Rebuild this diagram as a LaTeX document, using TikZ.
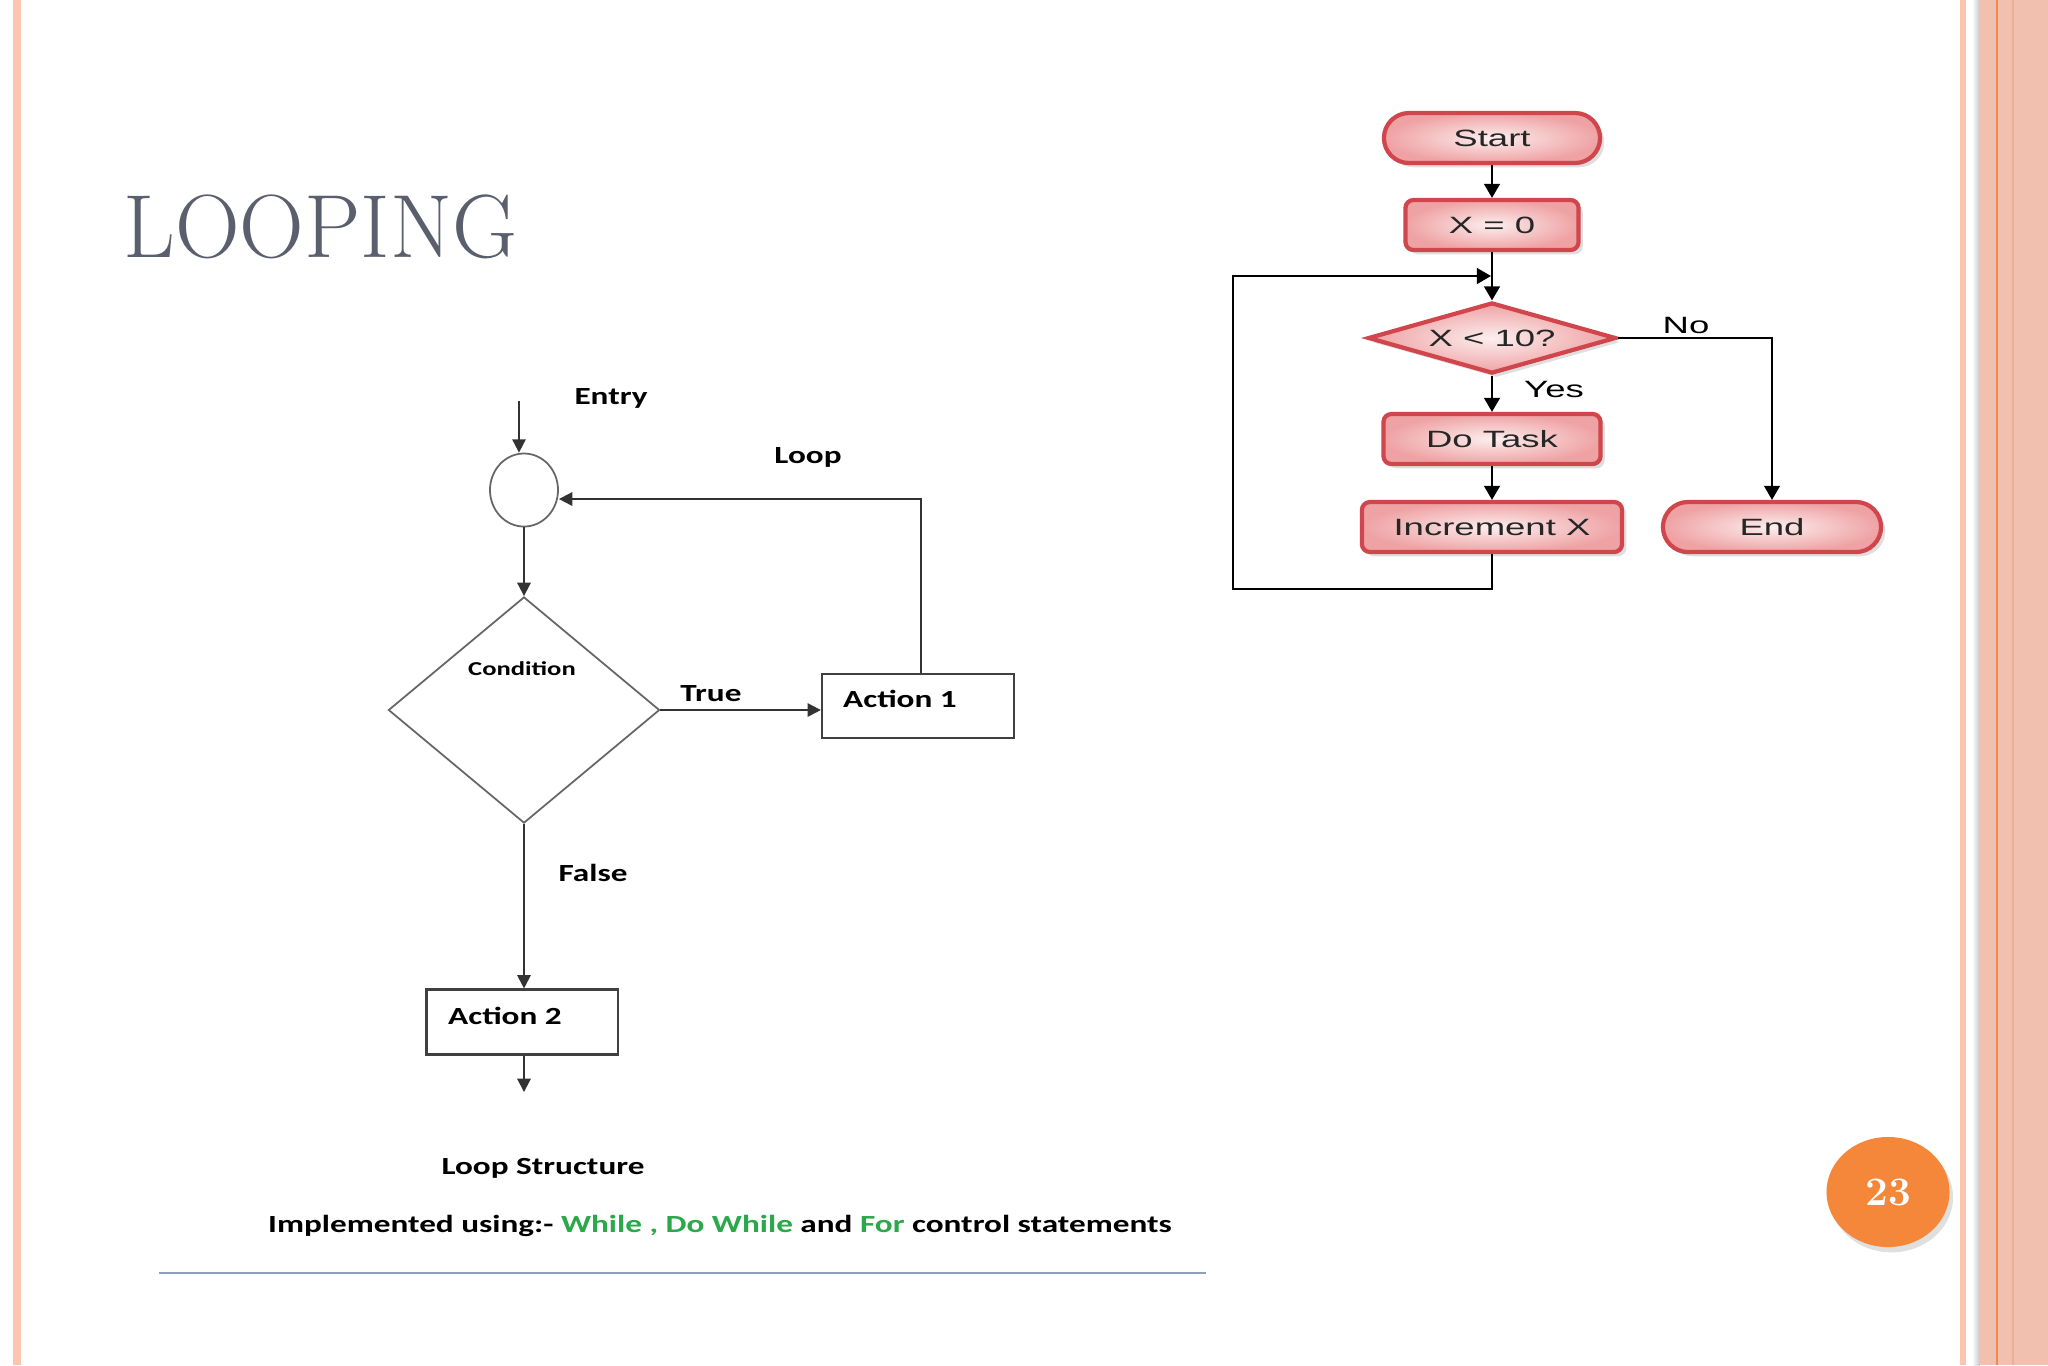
\documentclass[tikz,border=0pt]{standalone}
\usepackage{fontspec}
\usepackage{graphicx}
\usetikzlibrary{shapes.geometric,shapes.misc,shadows,arrows.meta}
\newfontfamily\calfont{Carlito}
\newfontfamily\arifont{Liberation Sans}
\definecolor{stripcol}{HTML}{FBC5AF}
\definecolor{widecol}{HTML}{F1C0AF}
\definecolor{orangeline}{HTML}{F08A4E}
\definecolor{faintline}{HTML}{EBAE9A}
\definecolor{titlegray}{HTML}{5A5F6E}
\definecolor{redborder}{HTML}{D0464C}
\definecolor{pinkin}{HTML}{FCEEEE}
\definecolor{pinkout}{HTML}{EFA2A4}
\definecolor{grn}{HTML}{2BA84A}
\definecolor{rulecol}{HTML}{8DA0BC}
\definecolor{pgorange}{HTML}{F5873A}
\newcommand\ltxt[1]{\scalebox{1.35}[1]{\calfont\bfseries\fontsize{7}{8}\selectfont #1}}
\newcommand\ctxt[1]{\scalebox{1.35}[1]{\calfont\bfseries\fontsize{5.6}{7}\selectfont #1}}
\newcommand\rtxt[1]{\scalebox{1.55}[1]{\arifont\fontsize{6.7}{8}\selectfont #1}}
\begin{document}
\begin{tikzpicture}[x=0.01cm,y=-0.01cm,
  rbox/.style={rectangle, rounded corners=0.08cm, draw=redborder, line width=1.2pt,
    inner color=pinkin, outer color=pinkout, minimum height=0.5cm, inner sep=0pt, text=black!85,
    drop shadow={shadow xshift=1.2pt, shadow yshift=-1.2pt, opacity=0.25, fill=gray}},
  rterm/.style={rbox, rounded corners=0.25cm},
  rdec/.style={diamond, aspect=3.5, draw=redborder, line width=1.2pt,
    inner color=pinkin, outer color=pinkout,
    inner sep=0pt, minimum width=2.48cm, minimum height=0.71cm, text=black!85,
    drop shadow={shadow xshift=1.2pt, shadow yshift=-1.2pt, opacity=0.25, fill=gray}},
  rarr/.style={draw=black, line width=0.6pt, -{Triangle[length=4pt,width=4.5pt]}},
  rthin/.style={draw=black, line width=0.45pt, -{Triangle[length=4pt,width=4.5pt]}},
  larr/.style={draw=black!80, line width=0.55pt, -{Triangle[length=3.8pt,width=3.8pt]}},
  lbox/.style={rectangle, draw=black!75, line width=0.6pt, inner sep=0pt},
  lshape/.style={draw=black!60, line width=0.5pt, inner sep=0pt}]
\useasboundingbox (0,0) rectangle (2048,1365);
\fill[white] (0,0) rectangle (2048,1365);
% page borders
\fill[stripcol] (13,0) rectangle (21,1365);
\fill[stripcol] (1960,0) rectangle (1966,1365);
\shade[left color=white, right color=gray!45] (1972,0) rectangle (1980,1365);
\fill[widecol] (1980,0) rectangle (2048,1365);
\draw[orangeline, line width=0.5pt] (1997,0) -- (1997,1365);
\draw[faintline, line width=0.5pt] (2013,0) -- (2013,1365);
% title
\node[anchor=base west, inner sep=0pt, text=titlegray, font=\fontsize{25.5}{26}\selectfont] (title) at (123,257) {LOOPING};
% right flowchart
\node[rterm, minimum width=2.16cm] (start) at (1492,138) {\rtxt{Start}};
\node[rbox, minimum width=1.73cm] (x0) at (1492,225) {\rtxt{X = 0}};
\node[rdec] (dec) at (1492,338) {\rtxt{X < 10?}};
\node[rbox, minimum width=2.17cm] (task) at (1492,439) {\rtxt{Do Task}};
\node[rbox, minimum width=2.60cm] (inc) at (1492,527) {\rtxt{Increment X}};
\node[rterm, minimum width=2.18cm] (end) at (1772,527) {\rtxt{End}};
\node (no) at (1686,325) {\rtxt{No}};
\node (yes) at (1554,389) {\rtxt{Yes}};
\coordinate (lb) at (1233,589);
\coordinate (jn) at (1491,276);
\draw[rarr] (start) -- (x0);
\draw[rarr] (x0) -- (dec);
\draw[rarr] (dec) -- (task);
\draw[rarr] (task) -- (inc);
\draw[rthin] (inc.south) |- (lb) |- (jn);
\draw[rthin] (dec.east) -| (end.north);
% left flowchart
\node[lshape, ellipse, minimum width=0.68cm, minimum height=0.73cm] (circ) at (524,490) {};
\node[lshape, diamond, minimum width=2.71cm, minimum height=2.26cm] (cond) at (524,710) {};
\node (condt) at (522,669) {\ctxt{Condition}};
\node[lbox, minimum width=1.92cm, minimum height=0.64cm] (act1) at (918,706) {};
\node (act1t) at (900,699) {\ltxt{Action 1}};
\node[lbox, minimum width=1.91cm, minimum height=0.65cm] (act2) at (522,1022) {};
\node (act2t) at (505,1016) {\ltxt{Action 2}};
\node (entry) at (611,398) {\ltxt{Entry}};
\node (loop) at (808,457) {\ltxt{Loop}};
\node (true) at (711,694) {\ltxt{True}};
\node (false) at (593,873) {\ltxt{False}};
\coordinate (entrypt) at (519,401);
\coordinate (lp) at (921,499);
\coordinate (exitpt) at (524,1092);
\draw[larr] (entrypt) -- (entrypt |- circ.north);
\draw[larr] (circ.south) -- (cond.north);
\draw[larr] (cond.east) -- (cond.east -| act1.west);
\draw[larr] (lp |- act1.north) -- (lp) -- (lp -| circ.east);
\draw[larr] (cond.south) -- (cond.south |- act2.north);
\draw[larr] (act2.south -| exitpt) -- (exitpt);
% footer
\node (cap) at (543,1168) {\ltxt{Loop Structure}};
\node (impl) at (720,1226) {\ltxt{Implemented using:- \textcolor{grn}{While , Do While} and \textcolor{grn}{For} control statements}};
\draw[rulecol, line width=0.6pt] (159,1273) -- (1206,1273);
% page number
\node[ellipse, fill=pgorange, minimum width=1.23cm, minimum height=1.10cm, inner sep=0pt,
  drop shadow={shadow xshift=1pt, shadow yshift=-1.5pt, opacity=0.25, fill=gray}] (pg) at (1888,1192)
  {\color{white}\bfseries\fontsize{11.5}{12}\selectfont 23};
\end{tikzpicture}
\end{document}
